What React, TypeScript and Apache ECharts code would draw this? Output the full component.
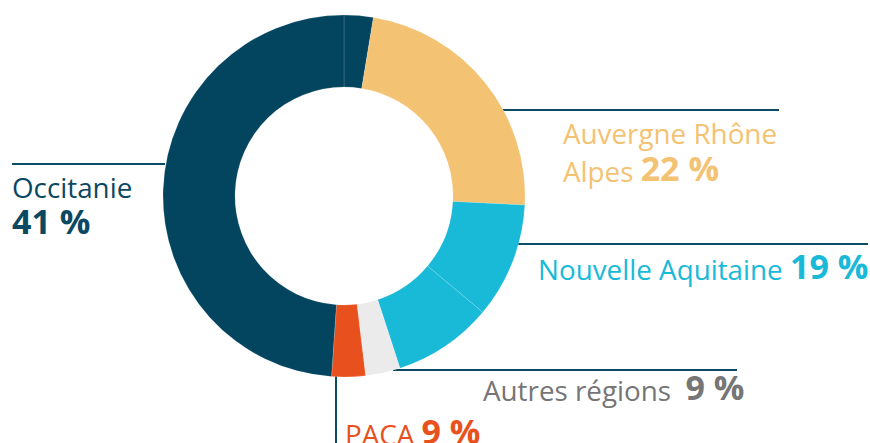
import React, { useEffect, useRef } from 'react';
import * as echarts from 'echarts';

// Slices, clockwise from 12 o'clock (shares of the full circle as drawn)
const sliceNames = ['Occitanie', 'Auvergne Rhône Alpes', 'Nouvelle Aquitaine', 'Nouvelle Aquitaine', 'Autres régions', 'PACA', 'Occitanie'];
const sliceShares = [2.6, 23.2, 10.3, 8.9, 3.1, 3.0, 48.9];
const sliceColors = ['#03445e', '#f4c273', '#19b9d8', '#19b9d8', '#ebebeb', '#e8511d', '#03445e'];

// Labels printed next to the donut
const labelNames = ['Occitanie', 'Auvergne Rhône', 'Alpes', 'Nouvelle Aquitaine', 'Autres régions', 'PACA'];
const labelPercents = [41, 22, 19, 9, 9];
const labelColors = ['#0b4862', '#f4c273', '#19b9d8', '#767676', '#e8511d'];

const LINE = '#0d4a63';
const FONT = '"Open Sans", "Noto Sans", sans-serif';

function rich(color: string) {
  return {
    n: { fontFamily: FONT, fontSize: 27.8, fontWeight: 400, fill: color, color, lineHeight: 30, verticalAlign: 'bottom' },
    v: { fontFamily: FONT, fontSize: 34, fontWeight: 700, fill: color, color, lineHeight: 35, verticalAlign: 'bottom' },
  };
}

function txt(x: number, y: number, text: string, color: string) {
  return {
    type: 'text',
    x,
    y,
    silent: true,
    style: { text, rich: rich(color), verticalAlign: 'middle', align: 'left', fill: color, font: `27.8px ${FONT}` },
  };
}

function hline(x1: number, x2: number, y: number) {
  return { type: 'line', silent: true, shape: { x1, y1: y, x2, y2: y }, style: { stroke: LINE, lineWidth: 2 } };
}

export default function App() {
  const ref = useRef<HTMLDivElement>(null);
  useEffect(() => {
    if (!ref.current) return;
    const chart = echarts.init(ref.current, undefined, { renderer: 'svg' });
    const p = (i: number) => `${labelPercents[i]} %`;
    chart.setOption({
      animation: false,
      backgroundColor: '#ffffff',
      series: [
        {
          type: 'pie',
          silent: true,
          center: [344, 196],
          radius: [109, 181],
          startAngle: 90,
          clockwise: true,
          avoidLabelOverlap: false,
          label: { show: false },
          labelLine: { show: false },
          itemStyle: { borderColor: 'rgba(255,255,255,0.3)', borderWidth: 0.5 },
          data: sliceShares.map((v, i) => ({ name: sliceNames[i] + '#' + i, value: v, itemStyle: { color: sliceColors[i] } })),
        },
      ],
      graphic: [
        hline(12, 165, 164),
        hline(503, 779, 110),
        hline(518, 868, 244),
        hline(393, 737, 370),
        { type: 'line', silent: true, shape: { x1: 336, y1: 376, x2: 336, y2: 443 }, style: { stroke: LINE, lineWidth: 2 } },
        txt(12, 186, `{n|${labelNames[0]}}`, labelColors[0]),
        txt(12, 220, `{v|${p(0)}}`, labelColors[0]),
        txt(563, 132, `{n|${labelNames[1]}}`, labelColors[1]),
        txt(563, 167, `{n|${labelNames[2]} }{v|${p(1)}}`, labelColors[1]),
        txt(538, 265, `{n|${labelNames[3]} }{v|${p(2)}}`, labelColors[2]),
        txt(483, 386, `{n|${labelNames[4]}  }{v|${p(3)}}`, labelColors[3]),
        txt(345, 430, `{n|${labelNames[5]} }{v|${p(4)}}`, labelColors[4]),
      ],
    });
    return () => chart.dispose();
  }, []);
  return <div ref={ref} style={{ position: 'fixed', left: 0, top: 0, width: 870, height: 443 }} />;
}
